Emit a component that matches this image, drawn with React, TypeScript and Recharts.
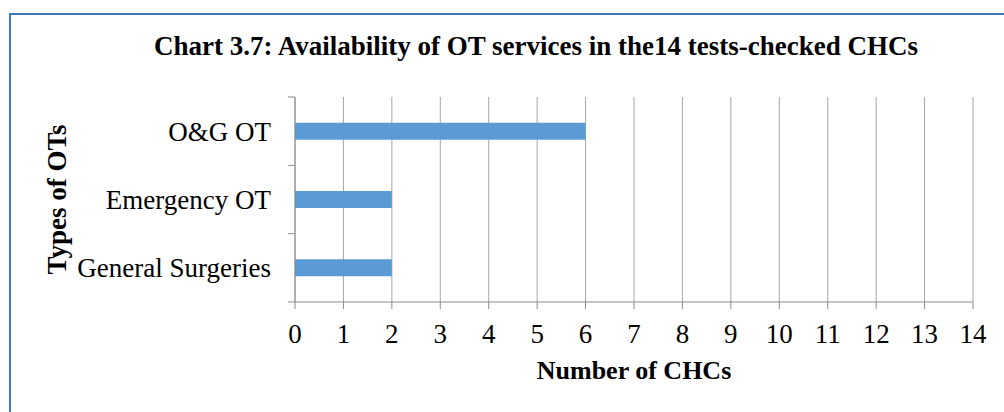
import React from 'react';
import { BarChart, Bar, XAxis, YAxis, CartesianGrid } from 'recharts';

const categories = ['O&G OT', 'Emergency OT', 'General Surgeries'];
const chcCounts = [6, 2, 2];
const xTicks = [0, 1, 2, 3, 4, 5, 6, 7, 8, 9, 10, 11, 12, 13, 14];

const data = categories.map((name, i) => ({ name, count: chcCounts[i] }));

const FONT = '"Liberation Serif", "Times New Roman", serif';
const AXIS_GREY = '#8c8c8c';

// Excel-style category axis: label in the band, tick marks on band edges
function CategoryTick(props: any) {
  const { x, y, payload, index, visibleTicksCount } = props;
  const half = payload?.offset ?? 0;
  const axisX = x + 24;
  const last = index === visibleTicksCount - 1;
  return (
    <g>
      <line x1={axisX - 7} x2={axisX} y1={y - half} y2={y - half} stroke={AXIS_GREY} />
      {last && <line x1={axisX - 7} x2={axisX} y1={y + half} y2={y + half} stroke={AXIS_GREY} />}
      <text x={x} y={y} dy="0.355em" textAnchor="end" fontSize={27} fill="#000" fontFamily={FONT}>
        {payload.value}
      </text>
    </g>
  );
}

function YTitle({ viewBox }: any) {
  const cy = viewBox.y + viewBox.height / 2;
  return (
    <text
      x={57}
      y={cy}
      transform={`rotate(-90 57 ${cy})`}
      textAnchor="middle"
      dominantBaseline="central"
      fontSize={27}
      fontWeight="bold"
      fontFamily={FONT}
      fill="#000"
    >
      Types of OTs
    </text>
  );
}

function XTitle({ viewBox }: any) {
  const cx = viewBox.x + viewBox.width / 2;
  return (
    <text
      x={cx}
      y={370}
      textAnchor="middle"
      dominantBaseline="central"
      fontSize={26}
      fontWeight="bold"
      fontFamily={FONT}
      fill="#000"
    >
      Number of CHCs
    </text>
  );
}

export default function App() {
  return (
    <div style={{ position: 'absolute', left: 0, top: 0, width: 1004, height: 412, background: '#fff', overflow: 'hidden' }}>
      <div
        style={{
          position: 'absolute', left: 9, top: 13, width: 1004, height: 412,
          borderLeft: '2px solid #3d7bbf', borderTop: '2px solid #3d7bbf',
        }}
      />
      <div
        style={{
          position: 'absolute', left: 536, top: 31, transform: 'translateX(-50%)',
          whiteSpace: 'nowrap', fontFamily: FONT, fontWeight: 'bold', fontSize: 27, color: '#000',
        }}
      >
        Chart 3.7: Availability of OT services in the14 tests-checked CHCs
      </div>
      <div style={{ position: 'absolute', left: 0, top: 0 }}>
        <BarChart
          width={1004}
          height={412}
          data={data}
          layout="vertical"
          margin={{ top: 97, right: 31, bottom: 0, left: 0 }}
          barCategoryGap="37.5%"
        >
          <CartesianGrid horizontal={false} stroke="#a6a6a6" />
          <XAxis
            type="number"
            domain={[0, 14]}
            ticks={xTicks}
            interval={0}
            height={110}
            tickSize={7}
            tickMargin={15}
            stroke={AXIS_GREY}
            tick={{ fontSize: 27, fill: '#000', fontFamily: FONT }}
            label={{ content: XTitle }}
          />
          <YAxis
            type="category"
            dataKey="name"
            width={295}
            tickLine={false}
            tickSize={7}
            tickMargin={17}
            stroke={AXIS_GREY}
            tick={CategoryTick}
            interval={0}
            label={{ content: YTitle }}
          />
          <Bar dataKey="count" fill="#5b9bd5" isAnimationActive={false} />
        </BarChart>
      </div>
    </div>
  );
}
